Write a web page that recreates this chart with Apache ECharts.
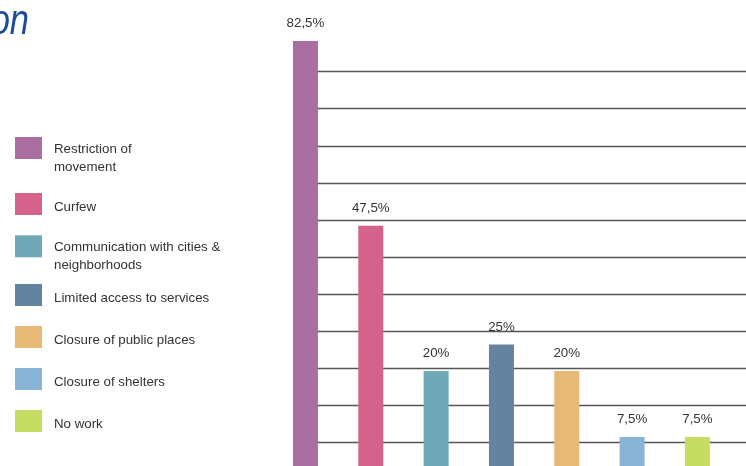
<!DOCTYPE html>
<html>
<head>
<meta charset="utf-8">
<script src="https://cdn.jsdelivr.net/npm/echarts@6/dist/echarts.min.js"></script>
<style>
html,body{margin:0;padding:0;background:#fff;}
#chart{width:746px;height:466px;}
</style>
</head>
<body>
<div id="chart"></div>
<script>
// ---- data ----
const categories = [
  'Restriction of movement',
  'Curfew',
  'Communication with cities & neighborhoods',
  'Limited access to services',
  'Closure of public places',
  'Closure of shelters',
  'No work'
];
const legendLabels = [
  'Restriction of\nmovement',
  'Curfew',
  'Communication with cities &\nneighborhoods',
  'Limited access to services',
  'Closure of public places',
  'Closure of shelters',
  'No work'
];
const values = [82.5, 47.5, 20, 25, 20, 7.5, 7.5];
const titleText = 'on';

// ---- styling ----
const colors = ['#aa6ea3', '#d5628a', '#6fa8b6', '#64839f', '#e6b974', '#8ab4d6', '#c6dd63'];
const legendIconTops = [137, 193, 235.3, 284, 326, 368, 410];
const textFont = '"Liberation Sans", Arial, sans-serif';
const textSize = 13.3;

const chart = echarts.init(document.getElementById('chart'), null, {renderer: 'canvas'});

const legends = categories.map((c, i) => {
  const lines = legendLabels[i].split('\n');
  const twoLine = lines.length > 1;
  const spacer = twoLine ? 21 : 6;
  return {
    data: [c],
    left: 15,
    top: twoLine ? legendIconTops[i] - 9 : legendIconTops[i],
    padding: 0,
    icon: 'rect',
    itemWidth: 27,
    itemHeight: 22,
    selectedMode: false,
    formatter: name => {
      const ls = legendLabels[categories.indexOf(name)].split('\n');
      return '{s| }\n' + ls.map(l => '{t|' + l + '}').join('\n');
    },
    textStyle: {
      fontFamily: textFont,
      fontSize: textSize,
      color: '#333',
      padding: [0, 0, 0, 7],
      rich: {
        s: {lineHeight: spacer, fontSize: 4, fontFamily: textFont},
        t: {lineHeight: 18, fontSize: textSize, fontFamily: textFont, color: '#333'}
      }
    }
  };
});

const option = {
  animation: false,
  backgroundColor: '#fff',
  graphic: [{
    type: 'text',
    x: 29,
    y: 22.5,
    scaleX: 0.82,
    style: {
      text: titleText,
      font: 'italic 42px "Liberation Sans"',
      fill: '#1d4b98',
      align: 'right',
      verticalAlign: 'middle'
    }
  }],
  legend: legends,
  grid: [
    {left: 272.8, width: 457.3, top: 1.4, height: 475.2, outerBoundsMode: 'none', containLabel: false},
    {left: 293, right: 0, top: 71.7, height: 370.3, outerBoundsMode: 'none', containLabel: false}
  ],
  xAxis: [
    {type: 'category', gridIndex: 0, data: categories, show: false},
    {type: 'value', gridIndex: 1, show: false}
  ],
  yAxis: [
    {type: 'value', gridIndex: 0, min: 0, max: 90, show: false},
    {type: 'value', gridIndex: 1, min: 0, max: 10, interval: 1,
     axisLine: {show: false}, axisTick: {show: false}, axisLabel: {show: false},
     splitLine: {show: true, lineStyle: {color: '#555', width: 1.3}}}
  ],
  series: categories.map((c, i) => ({
    name: c,
    type: 'bar',
    stack: 'all',
    xAxisIndex: 0,
    yAxisIndex: 0,
    barWidth: 25,
    z: 3,
    data: values.map((v, j) => (j === i ? v : '-')),
    itemStyle: {color: colors[i]},
    label: {
      show: true,
      position: 'top',
      distance: 11,
      fontFamily: textFont,
      fontSize: textSize,
      color: '#333',
      formatter: p => String(p.value).replace('.', ',') + '%'
    }
  }))
};
chart.setOption(option);
</script>
</body>
</html>
